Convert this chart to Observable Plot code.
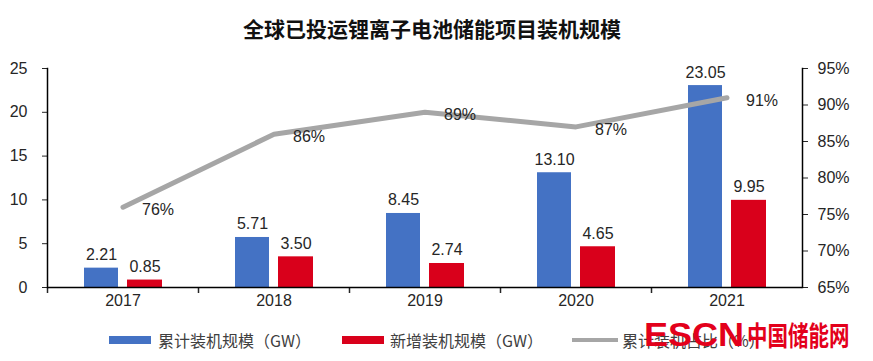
<!DOCTYPE html>
<html><head><meta charset="utf-8">
<script src="https://cdn.jsdelivr.net/npm/d3@7"></script>
<script src="https://cdn.jsdelivr.net/npm/@observablehq/plot@0.6"></script>
<style>
body{margin:0;background:#fff;}
#wrap{position:relative;width:873px;height:361px;overflow:hidden;font-family:"Liberation Sans",Arial,sans-serif;}
#title{height:50px;line-height:56px;text-align:center;font-family:"Noto Sans CJK SC";font-weight:700;font-size:21px;color:#111;padding-right:9px;box-sizing:border-box;}
#chart svg{display:block;}
.lg{position:absolute;}
.sw{position:absolute;}
.lt{position:absolute;font-family:"Noto Sans CJK SC";font-size:16px;color:#404040;line-height:20px;white-space:nowrap;}
#wm{position:absolute;left:644px;top:316px;color:#E3001B;font-weight:700;white-space:nowrap;line-height:36px;}
#wm .e{font-family:"Liberation Sans",Arial;font-size:34px;display:inline-block;transform:scaleX(1.06);transform-origin:left center;margin-right:9px;}
#wm .c{font-family:"Noto Sans CJK SC";font-size:27px;display:inline-block;transform:scaleX(0.76);transform-origin:left center;}
</style></head>
<body>
<div id="wrap">
  <div id="title">全球已投运锂离子电池储能项目装机规模</div>
  <div id="chart"></div>
  <div id="legend"></div>
  <div id="wm"><span class="e">ESCN</span><span class="c">中国储能网</span></div>
</div>
<script>
const years = ["2017", "2018", "2019", "2020", "2021"];
const cumulative = [2.21, 5.71, 8.45, 13.10, 23.05];
const added = [0.85, 3.50, 2.74, 4.65, 9.95];
const share = [76, 86, 89, 87, 91];
const leftTicks = [0, 5, 10, 15, 20, 25];
const rightTicks = [65, 70, 75, 80, 85, 90, 95];
const seriesNames = ["累计装机规模（GW）", "新增装机规模（GW）", "累计装机占比（%）"];
const colors = ["#4472C4", "#D9001B", "#A6A6A6"];

const rows = years.map((y, i) => ({year: y, cum: cumulative[i], add: added[i], pct: share[i]}));
const toY = p => (p - 65) / 30 * 25;

const plot = Plot.plot({
  width: 873,
  height: 267,
  marginTop: 18,
  marginBottom: 30,
  marginLeft: 47,
  marginRight: 71,
  style: {fontFamily: '"Liberation Sans", Arial, sans-serif', fontSize: "16px", color: "#262626", background: "transparent"},
  x: {domain: years, padding: 0},
  y: {domain: [0, 25]},
  marks: [
    Plot.barY(rows, {x: "year", y: "cum", fill: colors[0], insetLeft: 37, insetRight: 80}),
    Plot.barY(rows, {x: "year", y: "add", fill: colors[1], insetLeft: 80, insetRight: 36}),
    Plot.line(rows, {x: "year", y: d => toY(d.pct), stroke: colors[2], strokeWidth: 5, strokeLinejoin: "round"}),
    Plot.text(rows, {x: "year", y: "cum", text: d => d.cum.toFixed(2), dx: -21.5, dy: -8, lineAnchor: "bottom", fill: "#262626", fontSize: 16}),
    Plot.text(rows, {x: "year", y: "add", text: d => d.add.toFixed(2), dx: 22, dy: -8, lineAnchor: "bottom", fill: "#262626", fontSize: 16}),
    Plot.text(rows, {x: "year", y: d => toY(d.pct), text: d => d.pct + "%", dx: 35, dy: 3, fill: "#262626", fontSize: 16}),
    Plot.axisY(leftTicks, {anchor: "left", tickSize: 5, tickPadding: 15, label: null}),
    Plot.axisY(rightTicks.map(toY), {anchor: "right", tickSize: 5, tickPadding: 10, label: null, tickFormat: d => Math.round(d * 30 / 25 + 65) + "%"}),
    Plot.axisX({anchor: "bottom", tickSize: 0, tickPadding: 7, label: null}),
    Plot.axisX({anchor: "bottom", tickSize: 6, tickFormat: () => "", dx: -75.5, label: null, strokeWidth: 1.5}),
    Plot.ruleY([0], {stroke: "#000", strokeWidth: 1.5}),
    Plot.frame({anchor: "left", stroke: "#000", strokeWidth: 1.5}),
    Plot.frame({anchor: "right", stroke: "#000", strokeWidth: 1.5})
  ]
});
document.getElementById("chart").appendChild(plot);

const legend = document.getElementById("legend");
const items = [
  {sx: 109, sw: 42, sh: 8, tx: 158},
  {sx: 342, sw: 42, sh: 8, tx: 390},
  {sx: 572, sw: 46, sh: 4, tx: 622}
];
items.forEach((it, i) => {
  const s = document.createElement("div");
  s.className = "sw";
  s.style.cssText = `left:${it.sx}px;top:${340 - it.sh / 2}px;width:${it.sw}px;height:${it.sh}px;background:${colors[i]};`;
  legend.appendChild(s);
  const t = document.createElement("div");
  t.className = "lt";
  t.style.cssText = `left:${it.tx}px;top:330px;`;
  t.textContent = seriesNames[i];
  legend.appendChild(t);
});
</script>
</body></html>
